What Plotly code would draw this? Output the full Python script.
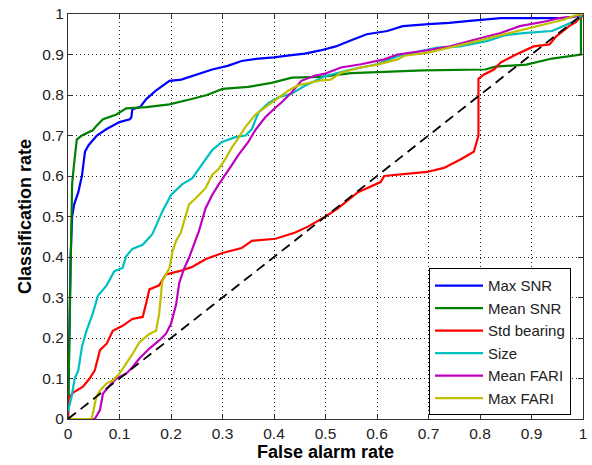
import plotly.graph_objects as go

# ---- data ----
max_snr_x = [0, 0.003, 0.005, 0.008, 0.012, 0.02, 0.027, 0.033, 0.04, 0.056, 0.075, 0.1, 0.12, 0.123, 0.125, 0.14, 0.152, 0.17, 0.185, 0.197, 0.22, 0.25, 0.28, 0.31, 0.337, 0.37, 0.4, 0.43, 0.46, 0.49, 0.52, 0.55, 0.58, 0.62, 0.65, 0.7, 0.74, 0.78, 0.84, 0.9, 0.96, 0.98, 1]
max_snr_y = [0, 0.3, 0.4, 0.5, 0.53, 0.56, 0.6, 0.66, 0.676, 0.70, 0.716, 0.733, 0.74, 0.745, 0.765, 0.77, 0.79, 0.81, 0.825, 0.835, 0.838, 0.85, 0.863, 0.872, 0.884, 0.89, 0.893, 0.898, 0.902, 0.91, 0.92, 0.935, 0.95, 0.958, 0.97, 0.975, 0.978, 0.983, 0.99, 0.99, 0.99, 0.993, 1]

mean_snr_x = [0, 0.004, 0.006, 0.008, 0.011, 0.014, 0.017, 0.027, 0.048, 0.056, 0.068, 0.094, 0.113, 0.152, 0.197, 0.24, 0.27, 0.3, 0.35, 0.395, 0.435, 0.49, 0.55, 0.69, 0.81, 0.83, 0.89, 0.94, 0.99, 0.996, 0.996, 1]
mean_snr_y = [0, 0.3, 0.5, 0.58, 0.62, 0.66, 0.69, 0.70, 0.713, 0.725, 0.74, 0.752, 0.767, 0.77, 0.777, 0.79, 0.80, 0.815, 0.82, 0.83, 0.843, 0.845, 0.854, 0.861, 0.863, 0.87, 0.875, 0.89, 0.90, 0.90, 0.99, 1]

std_bearing_x = [0, 0, 0.01, 0.029, 0.042, 0.052, 0.062, 0.075, 0.087, 0.106, 0.125, 0.145, 0.152, 0.158, 0.177, 0.19, 0.216, 0.24, 0.268, 0.3, 0.337, 0.357, 0.403, 0.44, 0.466, 0.5, 0.524, 0.563, 0.607, 0.614, 0.697, 0.73, 0.761, 0.788, 0.797, 0.797, 0.807, 0.827, 0.84, 0.865, 0.904, 0.935, 0.948, 0.973, 0.986, 1]
std_bearing_y = [0, 0.05, 0.065, 0.08, 0.1, 0.12, 0.17, 0.186, 0.218, 0.23, 0.247, 0.252, 0.287, 0.32, 0.33, 0.357, 0.365, 0.375, 0.395, 0.41, 0.422, 0.44, 0.445, 0.46, 0.475, 0.5, 0.52, 0.56, 0.585, 0.60, 0.61, 0.62, 0.64, 0.66, 0.70, 0.84, 0.85, 0.863, 0.88, 0.897, 0.92, 0.925, 0.945, 0.97, 0.98, 1]

size_x = [0, 0.007, 0.013, 0.02, 0.027, 0.036, 0.048, 0.058, 0.075, 0.081, 0.09, 0.106, 0.113, 0.125, 0.145, 0.164, 0.183, 0.2, 0.222, 0.241, 0.26, 0.28, 0.299, 0.325, 0.345, 0.357, 0.37, 0.389, 0.408, 0.434, 0.46, 0.5, 0.55, 0.6, 0.64, 0.717, 0.761, 0.813, 0.85, 0.884, 0.94, 0.96, 0.98, 1]
size_y = [0.02, 0.055, 0.1, 0.12, 0.178, 0.218, 0.26, 0.304, 0.33, 0.345, 0.365, 0.373, 0.402, 0.42, 0.43, 0.457, 0.512, 0.553, 0.58, 0.594, 0.627, 0.664, 0.684, 0.696, 0.70, 0.716, 0.757, 0.78, 0.794, 0.803, 0.823, 0.847, 0.863, 0.876, 0.896, 0.917, 0.92, 0.933, 0.948, 0.953, 0.958, 0.97, 0.98, 1]

mean_fari_x = [0, 0.052, 0.062, 0.068, 0.081, 0.094, 0.113, 0.125, 0.139, 0.158, 0.177, 0.19, 0.2, 0.21, 0.216, 0.225, 0.235, 0.248, 0.254, 0.267, 0.28, 0.293, 0.306, 0.318, 0.331, 0.35, 0.364, 0.383, 0.402, 0.415, 0.434, 0.453, 0.48, 0.5, 0.53, 0.569, 0.614, 0.64, 0.697, 0.742, 0.8, 0.84, 0.877, 0.929, 0.954, 0.98, 1]
mean_fari_y = [0, 0, 0.022, 0.063, 0.083, 0.1, 0.112, 0.128, 0.15, 0.174, 0.194, 0.21, 0.235, 0.283, 0.336, 0.37, 0.398, 0.44, 0.463, 0.52, 0.553, 0.58, 0.603, 0.627, 0.652, 0.684, 0.714, 0.745, 0.768, 0.782, 0.806, 0.835, 0.848, 0.853, 0.868, 0.876, 0.888, 0.9, 0.91, 0.92, 0.94, 0.953, 0.97, 0.982, 0.99, 0.993, 1]

max_fari_x = [0, 0.046, 0.055, 0.062, 0.075, 0.087, 0.1, 0.113, 0.125, 0.139, 0.158, 0.171, 0.177, 0.183, 0.197, 0.203, 0.21, 0.219, 0.235, 0.248, 0.267, 0.28, 0.293, 0.306, 0.318, 0.331, 0.345, 0.364, 0.383, 0.408, 0.428, 0.447, 0.491, 0.51, 0.53, 0.568, 0.6, 0.64, 0.653, 0.697, 0.742, 0.794, 0.84, 0.877, 0.915, 0.96, 0.986, 1]
max_fari_y = [0, 0, 0.055, 0.07, 0.088, 0.095, 0.112, 0.136, 0.16, 0.19, 0.21, 0.218, 0.26, 0.34, 0.373, 0.414, 0.44, 0.46, 0.53, 0.545, 0.57, 0.603, 0.618, 0.643, 0.67, 0.694, 0.722, 0.752, 0.77, 0.794, 0.811, 0.824, 0.836, 0.838, 0.855, 0.868, 0.875, 0.888, 0.897, 0.904, 0.917, 0.933, 0.948, 0.96, 0.972, 0.985, 0.997, 1]

chance_x = [0, 1]
chance_y = [0, 1]

series = [
    ("Max SNR", max_snr_x, max_snr_y, "#0000FF"),
    ("Mean SNR", mean_snr_x, mean_snr_y, "#008000"),
    ("Std bearing", std_bearing_x, std_bearing_y, "#FF0000"),
    ("Size", size_x, size_y, "#00BFBF"),
    ("Mean FARI", mean_fari_x, mean_fari_y, "#BF00BF"),
    ("Max FARI", max_fari_x, max_fari_y, "#BFBF00"),
]

FONT = "Liberation Sans, Arial, Helvetica, sans-serif"

fig = go.Figure()
for name, xs, ys, col in series:
    fig.add_trace(go.Scatter(x=xs, y=ys, mode="lines", name=name,
                             line=dict(color=col, width=2.2)))
fig.add_trace(go.Scatter(x=chance_x, y=chance_y, mode="lines", showlegend=False,
                         line=dict(color="black", width=1.8, dash="10px,6px")))

axis_common = dict(
    range=[0, 1], dtick=0.1, tick0=0,
    showline=True, linecolor="#333", linewidth=1, mirror="ticks",
    ticks="inside", ticklen=5, tickcolor="#333", tickwidth=1,
    showgrid=True, gridcolor="#222", gridwidth=1, griddash="1px,3px",
    zeroline=False,
    tickfont=dict(family=FONT, size=15.5, color="#222"),
)

fig.update_layout(
    width=592, height=465,
    margin=dict(l=68, r=5, t=11, b=46),
    paper_bgcolor="white", plot_bgcolor="white",
    font=dict(family=FONT, color="black"),
    xaxis=dict(**axis_common,
               title=dict(text="<b>False alarm rate</b>", font=dict(family=FONT, size=18), standoff=4)),
    yaxis=dict(**axis_common,
               title=dict(text="<b>Classification rate</b>", font=dict(family=FONT, size=18), standoff=6)),
    legend=dict(x=0.701, y=0.372, xanchor="left", yanchor="top",
                bgcolor="white", bordercolor="black", borderwidth=1,
                font=dict(family=FONT, size=15, color="#222"),
                itemwidth=48,
                tracegroupgap=0),
    showlegend=True,
)

fig.write_html("out.html")
